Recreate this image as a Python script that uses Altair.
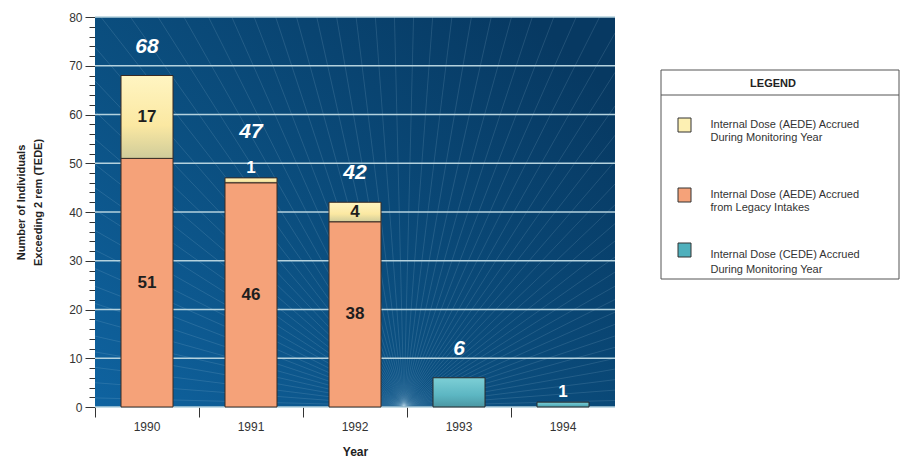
import altair as alt
import numpy as np
import pandas as pd

# ---------------- data ----------------
years = ["1990", "1991", "1992", "1993", "1994"]
legacy_aede = [51, 46, 38, 0, 0]      # Internal Dose (AEDE) Accrued from Legacy Intakes
year_aede = [17, 1, 4, 0, 0]          # Internal Dose (AEDE) Accrued During Monitoring Year
year_cede = [0, 0, 0, 6, 1]           # Internal Dose (CEDE) Accrued During Monitoring Year

legend_labels = [
    ["Internal Dose (AEDE) Accrued", "During Monitoring Year"],
    ["Internal Dose (AEDE) Accrued", "from Legacy Intakes"],
    ["Internal Dose (CEDE) Accrued", "During Monitoring Year"],
]
y_title = ["Number of Individuals", "Exceeding 2 rem (TEDE)"]

# ---------------- tables ----------------
W, H = 520, 390
FONT = "Liberation Sans"

rows = []
for i, yr in enumerate(years):
    start = 0
    for series, val in (("legacy", legacy_aede[i]), ("aede", year_aede[i]), ("cede", year_cede[i])):
        if val > 0:
            rows.append({"year": yr, "series": series, "start": start, "end": start + val,
                         "value": val, "mid": start + val / 2})
        start += val
seg = pd.DataFrame(rows)

inside = seg[(seg.value >= 3) & (seg.series != "cede")]
outside = seg[seg.value < 3]

tot = pd.DataFrame({"year": years,
                    "total": [a + b + c for a, b, c in zip(legacy_aede, year_aede, year_cede)]})
last_small = {yr: (d.sort_values("end").iloc[-1]["value"] < 3) for yr, d in seg.groupby("year")}
tot["small_top"] = tot.year.map(last_small)
tot = tot[tot.total >= 3].copy()
tot["pos"] = tot.total + np.where(tot.small_top, 3.5, 0.0)

# decorative background rays (pixel coordinates of the plot area)
cx, cy = 309.0, 389.0
ray_rows = []
for th in np.linspace(1.5, 178.5, 64):
    t = np.radians(th)
    dx, dy = np.cos(t), -np.sin(t)
    cand = [cy / np.sin(t)]
    if dx > 1e-9:
        cand.append((W - cx) / dx)
    elif dx < -1e-9:
        cand.append(-cx / dx)
    s = min(cand)
    ray_rows.append({"x0": cx, "y0": cy, "x1": cx + s * dx, "y1": cy + s * dy})
rays = pd.DataFrame(ray_rows)

grid = pd.DataFrame({"v": list(range(0, 81, 10))})

# ---------------- scales ----------------
xscale = alt.Scale(domain=years, paddingInner=0.5, paddingOuter=0.25)
yscale = alt.Scale(domain=[0, 80], nice=False, zero=True)

def X(axis=None):
    return alt.X("year:N", scale=xscale, axis=axis, sort=years)

# ---------------- layers ----------------
one = alt.Data(values=[{"a": 1}])

bg = alt.Chart(one).mark_rect(
    fill=alt.Gradient(gradient="linear", x1=0, y1=1, x2=1, y2=0.2,
                      stops=[alt.GradientStop(color="#0f63a0", offset=0),
                             alt.GradientStop(color="#0b4f80", offset=0.45),
                             alt.GradientStop(color="#073962", offset=1)])
).encode(x=alt.value(0), x2=alt.value(W), y=alt.value(0), y2=alt.value(H))

ray_layer = alt.Chart(rays).mark_rule(
    color="#b2d4e8", opacity=0.22, strokeWidth=0.7, clip=True
).encode(
    x=alt.X("x0:Q", scale=None, axis=None), y=alt.Y("y0:Q", scale=None, axis=None),
    x2="x1:Q", y2="y1:Q",
)

grid_layer = alt.Chart(grid).mark_rule(color="#b4d2de", strokeWidth=1.4).encode(
    y=alt.Y("v:Q", scale=yscale,
            axis=alt.Axis(orient="left", values=list(range(0, 81, 2)), labels=False,
                          tickSize=6, tickColor="#333333", tickWidth=1, domain=False,
                          grid=False, title=None)),
    x=alt.value(0), x2=alt.value(W),
)

legacy_layer = alt.Chart(seg[seg.series == "legacy"]).mark_bar(
    fill="#f5a279", stroke="#3a2a22", strokeWidth=1
).encode(
    x=X(alt.Axis(orient="bottom", title="Year", bandPosition=-0.5, labelAngle=0, tickSize=10,
                 tickColor="#333333", domain=False, labelFontSize=12, labelColor="#333333",
                 labelPadding=4, titleFontSize=12, titleFontWeight="bold",
                 titleColor="#222222", titlePadding=14, labelFont=FONT, titleFont=FONT,
                 grid=False)),
    y=alt.Y("start:Q", scale=yscale,
            axis=alt.Axis(orient="left", values=list(range(0, 81, 10)), tickSize=10,
                          tickColor="#333333", domainColor="#333333", labelFontSize=12,
                          labelColor="#333333", labelPadding=3, grid=False,
                          title=y_title, titleFontSize=11, titleFontWeight="bold",
                          titleColor="#222222", titleAngle=-90, titleX=-74, titleY=185,
                          titleAlign="center", titleBaseline="middle", titleLineHeight=17,
                          labelFont=FONT, titleFont=FONT)),
    y2="end:Q",
)

aede_layer = alt.Chart(seg[seg.series == "aede"]).mark_bar(
    fill=alt.Gradient(gradient="linear", x1=0, y1=0, x2=0, y2=1,
                      stops=[alt.GradientStop(color="#fff5c2", offset=0),
                             alt.GradientStop(color="#fbe8a2", offset=0.6),
                             alt.GradientStop(color="#cfcc9a", offset=1)]),
    stroke="#3a2a22", strokeWidth=1,
).encode(x=X(), y=alt.Y("start:Q", scale=yscale, axis=None), y2="end:Q")

cede_layer = alt.Chart(seg[seg.series == "cede"]).mark_bar(
    fill=alt.Gradient(gradient="linear", x1=0, y1=0, x2=0, y2=1,
                      stops=[alt.GradientStop(color="#7dcfd6", offset=0),
                             alt.GradientStop(color="#5cb6c2", offset=0.6),
                             alt.GradientStop(color="#4b97a3", offset=1)]),
    stroke="#2a2a2a", strokeWidth=1,
).encode(x=X(), y=alt.Y("start:Q", scale=yscale, axis=None), y2="end:Q")

inside_text = alt.Chart(inside).mark_text(
    font=FONT, fontSize=17, fontWeight="bold", color="#1e1e1e", baseline="middle"
).encode(x=X(), y=alt.Y("mid:Q", scale=yscale, axis=None), text="value:Q")

outside_text = alt.Chart(outside).mark_text(
    font=FONT, fontSize=17, fontWeight="bold", color="white", baseline="middle", dy=-10
).encode(x=X(), y=alt.Y("end:Q", scale=yscale, axis=None), text="value:Q")

total_text = alt.Chart(tot).mark_text(
    font=FONT, fontSize=21, fontWeight="bold", fontStyle="italic", color="white",
    baseline="middle", dy=-29
).encode(x=X(), y=alt.Y("pos:Q", scale=yscale, axis=None), text="total:Q")

# ---------------- legend (drawn in pixel space to the right of the plot) ----------------
LX0, LX1, LY0, LY1 = 566, 804, 53, 262
leg_box = alt.Chart(one).mark_rect(fill="white", stroke="#555555", strokeWidth=1).encode(
    x=alt.value(LX0), x2=alt.value(LX1), y=alt.value(LY0), y2=alt.value(LY1))
leg_sep = alt.Chart(one).mark_rule(color="#555555", strokeWidth=1).encode(
    x=alt.value(LX0), x2=alt.value(LX1), y=alt.value(78))
leg_title = alt.Chart(one).mark_text(
    text="LEGEND", font=FONT, fontSize=11, fontWeight="bold", color="#222222",
    align="center", baseline="middle").encode(x=alt.value(678), y=alt.value(67))

sw_fills = ["#fdf0b3", "#f5a279", "#4fb0bc"]
sw_y = [(101, 115), (171, 185), (226, 240)]
txt_y = [108, 177.5, 237.8]
txt_lh = [12.5, 13, 15]
leg_items = []
for fill, (a, b), ty, lh, lab in zip(sw_fills, sw_y, txt_y, txt_lh, legend_labels):
    leg_items.append(alt.Chart(one).mark_rect(fill=fill, stroke="#333333", strokeWidth=1).encode(
        x=alt.value(583), x2=alt.value(596), y=alt.value(a), y2=alt.value(b)))
    leg_items.append(alt.Chart(one).mark_text(
        font=FONT, fontSize=11, color="#333333", align="left", baseline="middle",
        lineHeight=lh).encode(x=alt.value(615.5), y=alt.value(ty), text=alt.value(lab)))

chart = alt.layer(
    bg, ray_layer, grid_layer, legacy_layer, aede_layer, cede_layer,
    inside_text, outside_text, total_text, leg_box, leg_sep, leg_title, *leg_items
).resolve_axis(y="independent", x="independent").properties(
    width=W, height=H,
    autosize=alt.AutoSizeParams(type="none"),
    padding={"left": 87, "top": 9, "right": 285, "bottom": 53},
).configure(font=FONT).configure_view(stroke=None)

chart.save("out.html", embed_options={"renderer": "svg", "actions": False})
